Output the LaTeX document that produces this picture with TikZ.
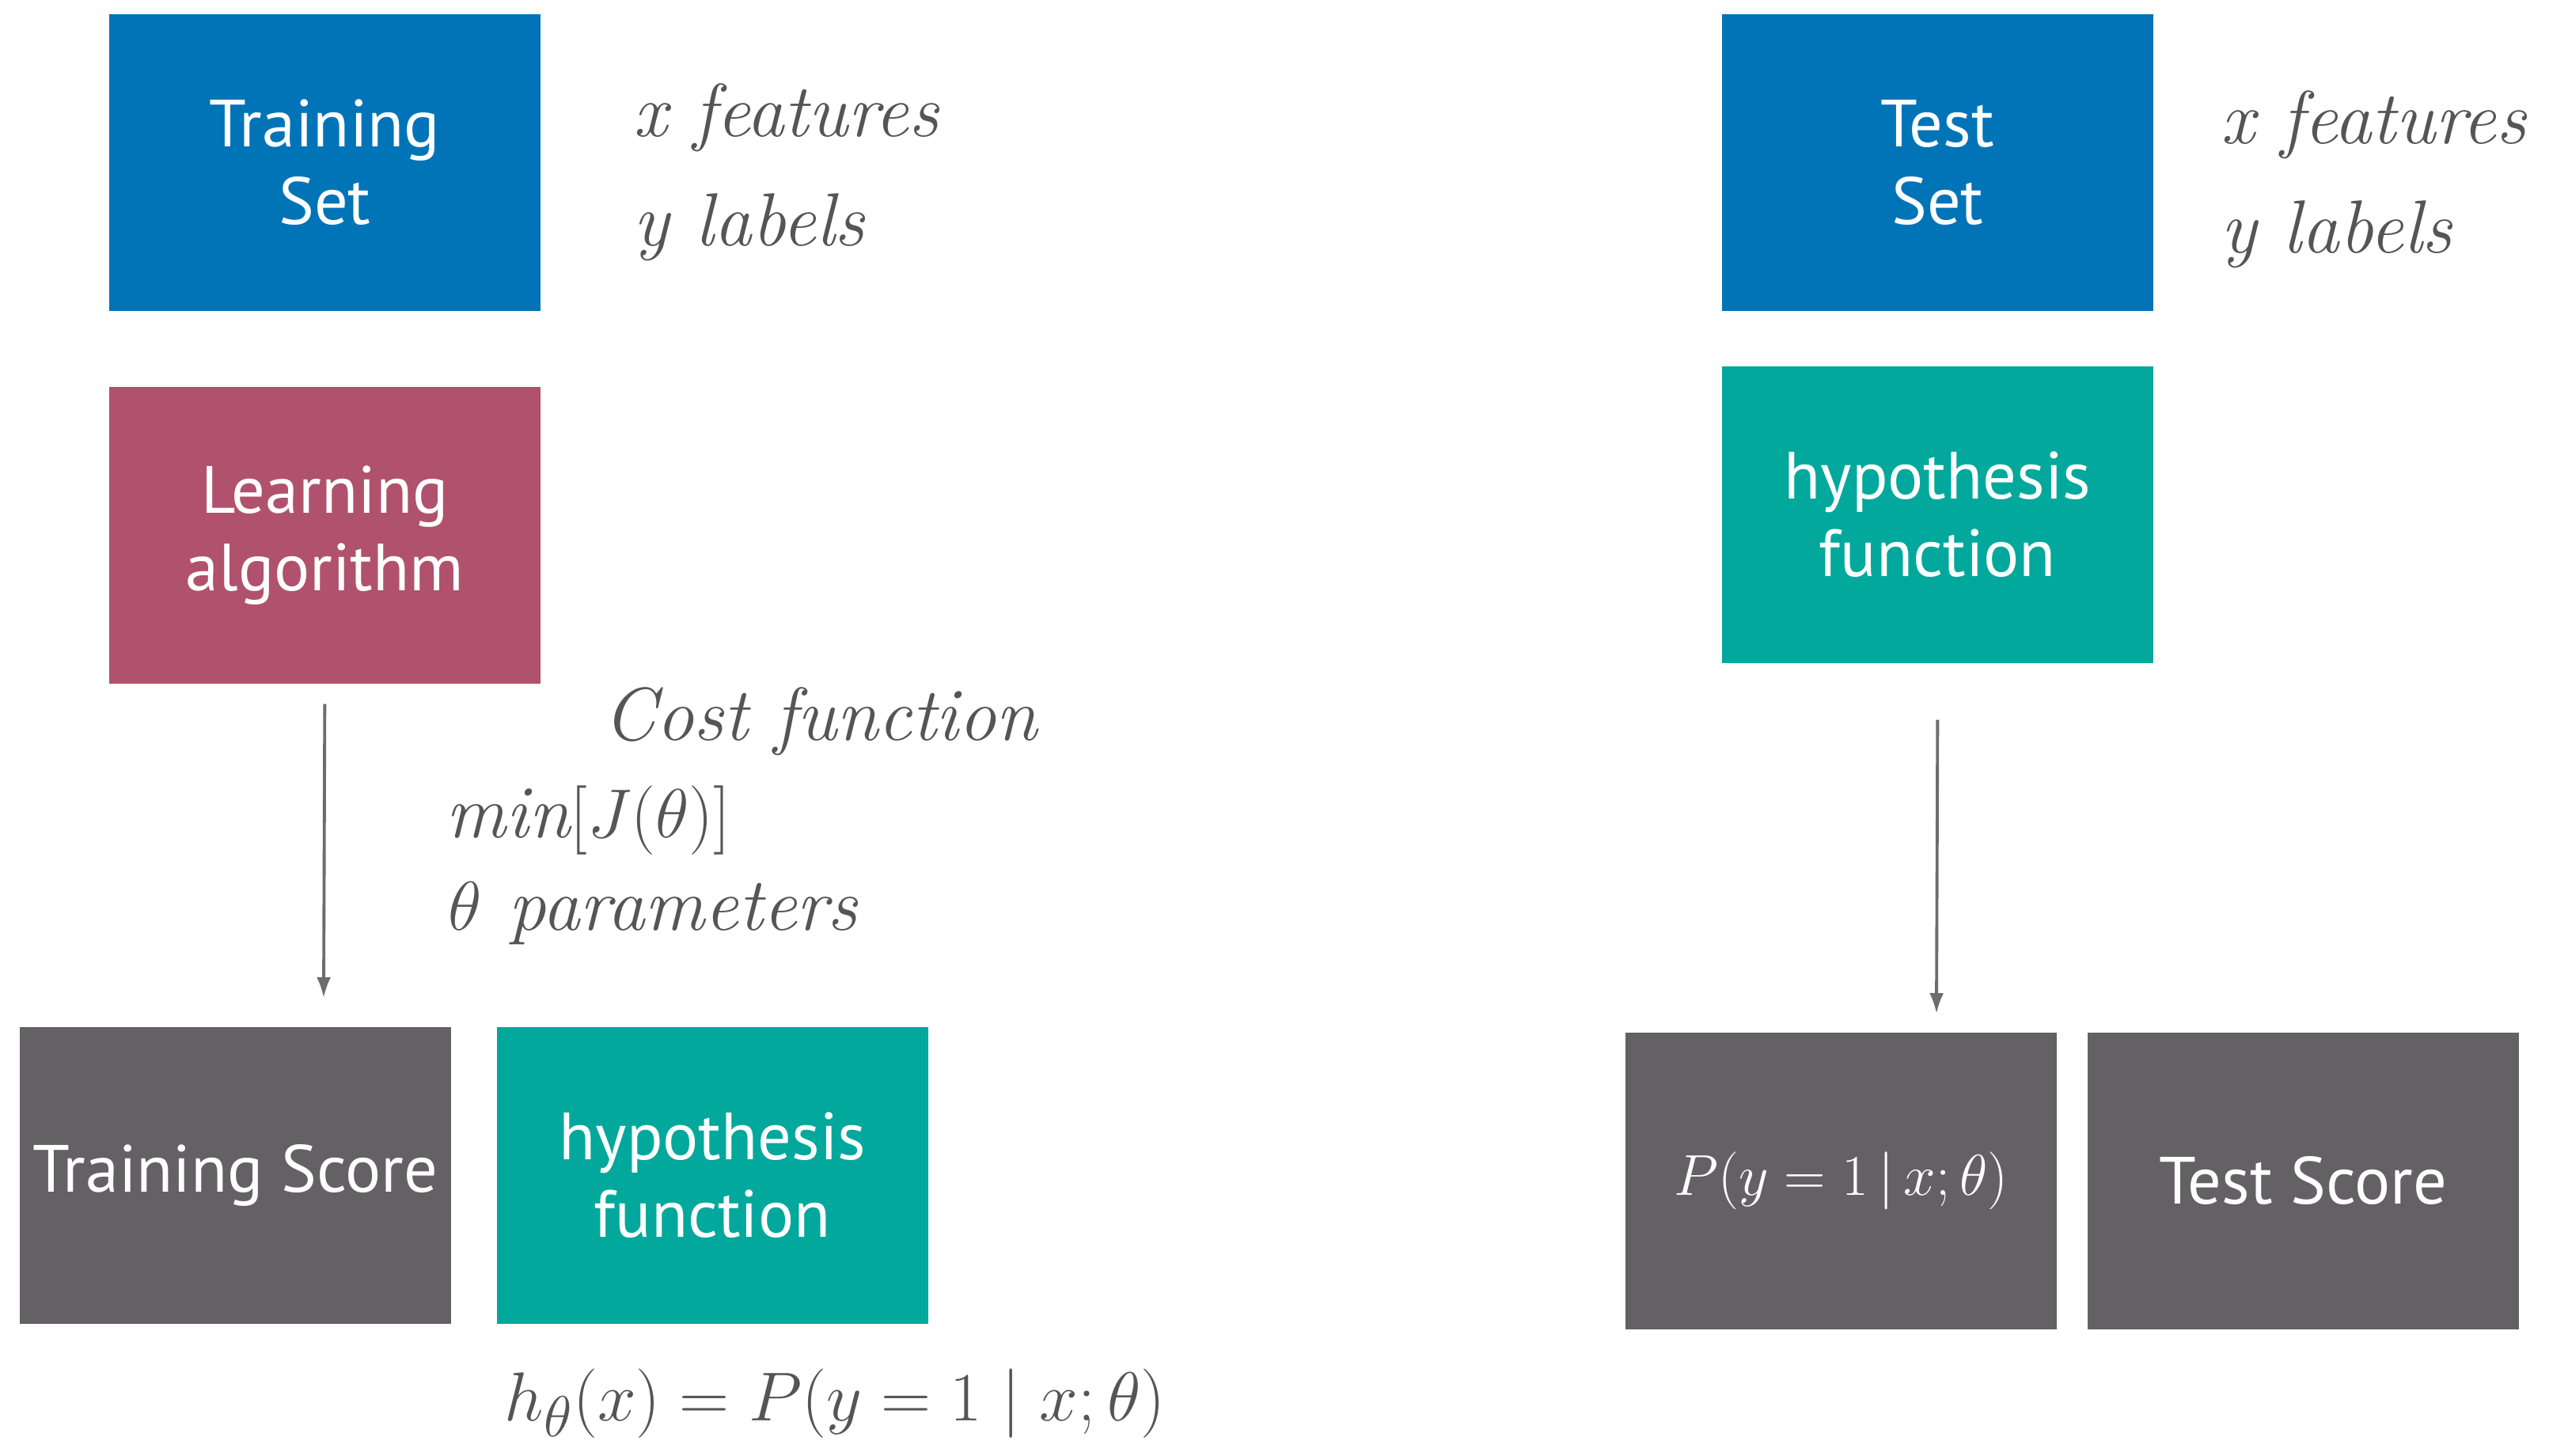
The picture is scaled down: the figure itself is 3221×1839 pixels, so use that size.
\documentclass[tikz,border=0pt]{standalone}
\usepackage{fontspec}
\newfontfamily\boxfont{PT Sans}
\usetikzlibrary{arrows.meta}
\definecolor{cblue}{HTML}{0174B7}
\definecolor{cred}{HTML}{B0516D}
\definecolor{cteal}{HTML}{03A89C}
\definecolor{cgray}{HTML}{636164}
\definecolor{ctext}{HTML}{555555}
\definecolor{carrow}{HTML}{6D6D6D}
\begin{document}
\begin{tikzpicture}[x=0.01cm,y=-0.01cm,
  blk/.style={anchor=north west,minimum width=5.45cm,minimum height=3.75cm,inner sep=0pt,
    text=white,align=center,font=\boxfont\fontsize{24}{27.8}\selectfont},
  note/.style={anchor=base west,inner sep=0pt,text=ctext,font=\fontsize{27}{30}\selectfont\itshape},
  arr/.style={draw=carrow,line width=1.1pt,-{Latex[length=0.26cm,width=0.18cm]}}]
\useasboundingbox (0,0) rectangle (3221,1839);
% left column
\node[blk,fill=cblue] (tset) at (137,17) {Training\\Set};
\node[blk,fill=cred] (learn) at (137,488) {Learning\\algorithm};
\node[blk,fill=cgray] (tscore) at (24,1297) {Training Score};
\node[blk,fill=cteal] (hyp1) at (627,1297) {hypothesis\\function};
\node[note] (xf1) at (800,172) {x features};
\node[note] (yl1) at (800,310) {y labels};
\node[note] (cost) at (762,935) {Cost function};
\node[note] (minj) at (563,1058) {$\mathit{min}[J(\theta)]$};
\node[note] (tpar) at (566,1175) {$\theta$ parameters};
\node[anchor=base west,inner sep=0pt,text=ctext,font=\fontsize{28}{32}\selectfont] (hform) at (637,1795) {$h_\theta(x) = P(y = 1\;|\;x;\theta)$};
\coordinate (a1end) at (409,1261);
\draw[arr] ([yshift=-0.25cm]learn.south) -- (a1end);
% right column
\node[blk,fill=cblue] (teset) at (2175,17) {Test\\Set};
\node[blk,fill=cteal] (hyp2) at (2175,462) {hypothesis\\function};
\node[blk,fill=cgray] (pbox) at (2053,1304) {\fontsize{21}{24}\selectfont$P(y = 1\,|\,x;\theta)$};
\node[blk,fill=cgray] (tescore) at (2637,1304) {Test Score};
\node[note] (xf2) at (2806,181) {x features};
\node[note] (yl2) at (2806,319) {y labels};
\coordinate (a2end) at (2447,1281);
\draw[arr] ([yshift=-0.71cm]hyp2.south) -- (a2end);
\end{tikzpicture}
\end{document}
